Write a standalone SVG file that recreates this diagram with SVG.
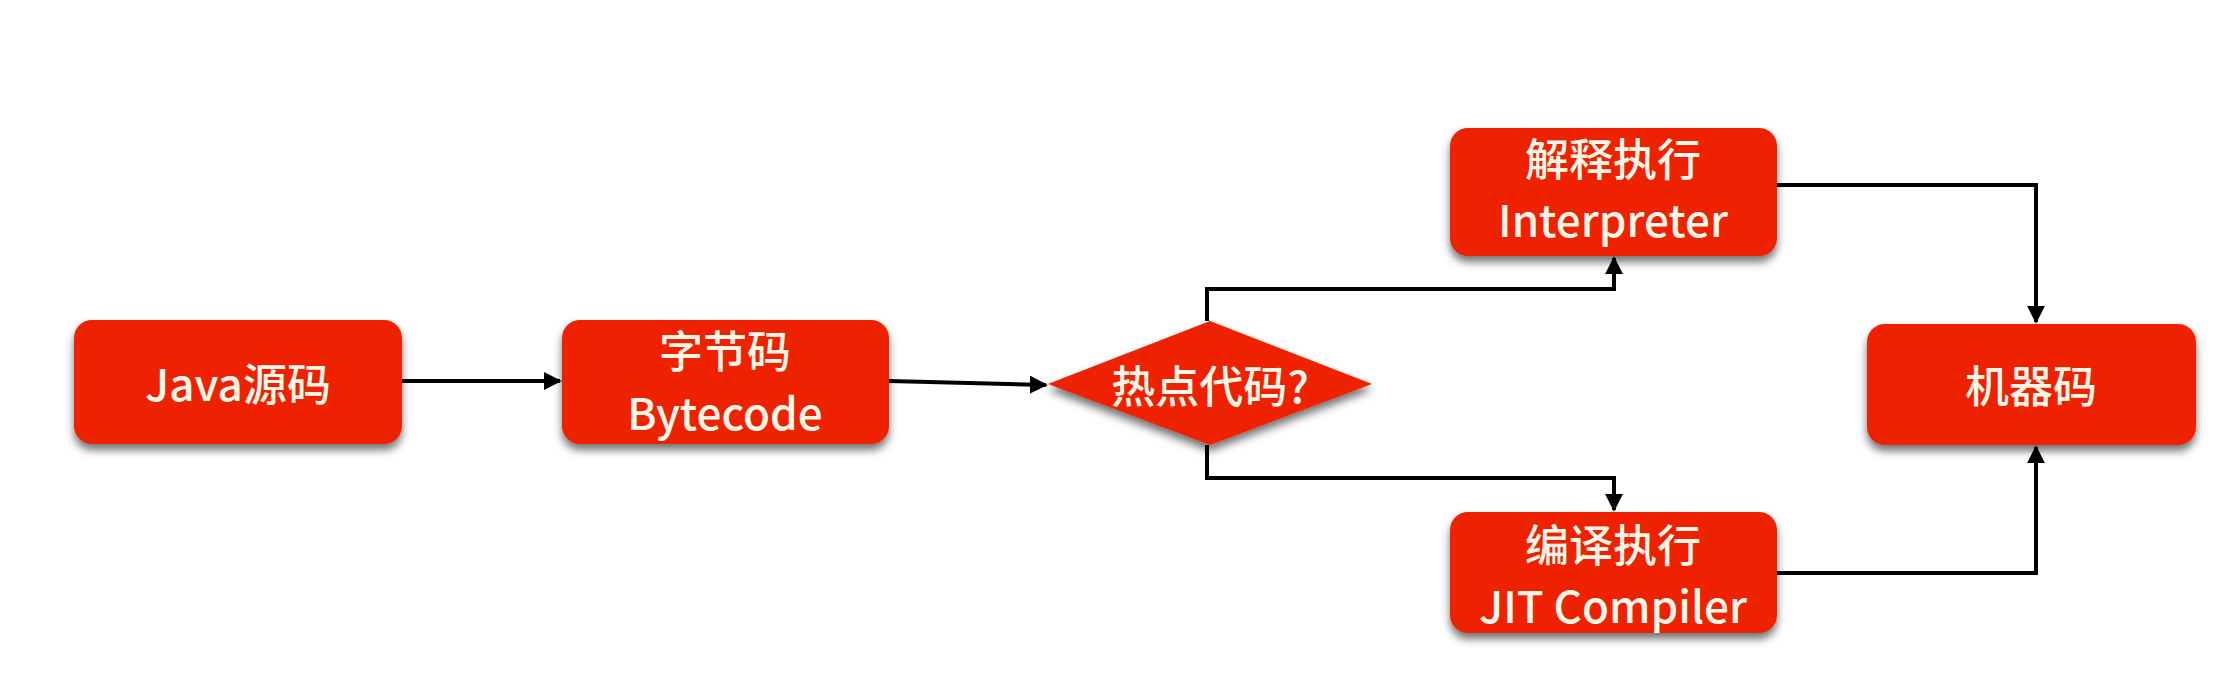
<svg xmlns="http://www.w3.org/2000/svg" width="2229" height="684" viewBox="0 0 2229 684">
<style>
.box{fill:#ee2200;filter:url(#sh)}
.t{fill:#fff6ea;font-family:"Noto Sans CJK SC","Noto Sans",sans-serif;font-size:44px;font-weight:500;text-anchor:middle;dominant-baseline:central}
.c{fill:none;stroke:#000;stroke-width:4;marker-end:url(#ah)}
</style>
<defs>
<filter id="sh" x="-10%" y="-10%" width="120%" height="130%">
<feDropShadow dx="0" dy="6" stdDeviation="4" flood-color="#000" flood-opacity="0.55"/>
</filter>
<marker id="ah" viewBox="0 0 10 10" refX="9" refY="5" markerWidth="4.5" markerHeight="4.5" orient="auto" markerUnits="strokeWidth">
<path d="M0,0L10,5L0,10z" fill="#000"/>
</marker>
</defs>
<rect width="2229" height="684" fill="#fff"/>
<g id="connectors">
<path class="c" d="M402,381H560"/>
<path class="c" d="M889,381L1046,385"/>
<path class="c" d="M1207,321V289H1614V258"/>
<path class="c" d="M1207,445V478H1614V510"/>
<path class="c" d="M1777,185H2036V322"/>
<path class="c" d="M1777,573H2036V447"/>
</g>
<g id="java">
<rect class="box" x="74" y="320" width="328" height="124" rx="18"/>
<text class="t" x="238" y="382">Java源码</text>
</g>
<g id="bytecode">
<rect class="box" x="562" y="320" width="327" height="124" rx="18"/>
<text class="t" x="725" y="349">字节码</text>
<text class="t" x="725" y="411">Bytecode</text>
</g>
<g id="hotspot">
<path class="box" d="M1048,384L1210,321L1372,384L1210,445z"/>
<text class="t" x="1210" y="384">热点代码?</text>
</g>
<g id="interpreter">
<rect class="box" x="1450" y="128" width="327" height="128" rx="18"/>
<text class="t" x="1613" y="157">解释执行</text>
<text class="t" x="1613" y="218">Interpreter</text>
</g>
<g id="jit">
<rect class="box" x="1450" y="512" width="327" height="121" rx="18"/>
<text class="t" x="1613" y="543">编译执行</text>
<text class="t" x="1613" y="604">JIT Compiler</text>
</g>
<g id="machine">
<rect class="box" x="1867" y="324" width="329" height="121" rx="18"/>
<text class="t" x="2031" y="384">机器码</text>
</g>
</svg>
